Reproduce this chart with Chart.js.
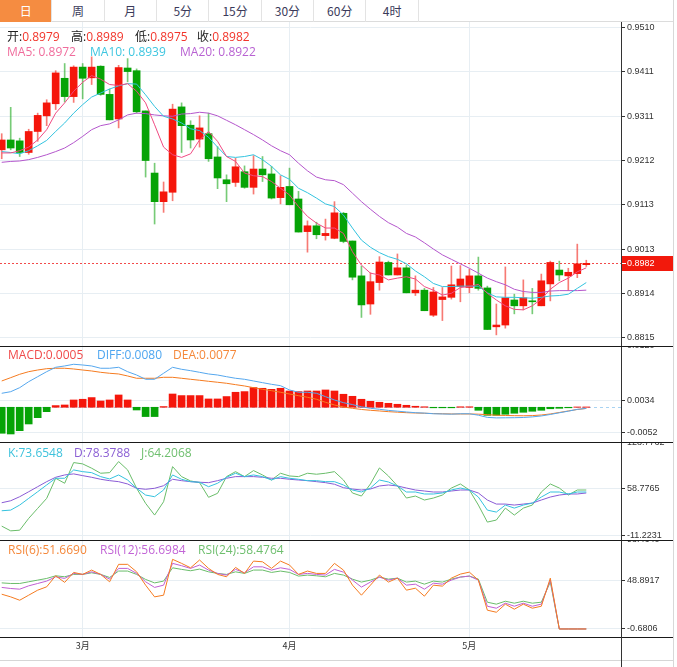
<!DOCTYPE html>
<html><head><meta charset="utf-8">
<script src="https://cdn.jsdelivr.net/npm/chart.js@4.4.1/dist/chart.umd.min.js"></script>
<style>
html,body{margin:0;padding:0;background:#fff;}
body{width:677px;height:667px;overflow:hidden;position:relative;font-family:"Open Sans","Noto Sans CJK SC",sans-serif;}
canvas{position:absolute;left:0;}
.tabs{position:absolute;left:0;top:0;width:673px;height:22px;border-bottom:1px solid #dcdcdc;box-sizing:border-box;}
.tab{position:absolute;top:0;height:22px;line-height:21px;text-align:center;font-size:12px;color:#3a3a5a;border-right:1px solid #e3e3e3;box-sizing:border-box;font-family:"Noto Sans CJK SC","Open Sans",sans-serif;}
.tab.on{background:#f58c41;color:#fff;}
.ln{position:absolute;}
.hdr{position:absolute;font-size:12px;white-space:nowrap;line-height:14px;}
.hdr span{position:absolute;white-space:nowrap;}
</style></head>
<body>
<div class="tabs" id="tabs"></div>
<canvas id="cPrice" width="673" height="324" style="top:22px"></canvas>
<canvas id="cMacd" width="673" height="96" style="top:346px"></canvas>
<canvas id="cKdj" width="673" height="98" style="top:442px"></canvas>
<canvas id="cRsi" width="673" height="120" style="top:540px"></canvas>
<div class="ln" style="left:0;top:346px;width:673px;height:1px;background:#1a1a1a"></div>
<div class="ln" style="left:0;top:442px;width:673px;height:1px;background:#1a1a1a"></div>
<div class="ln" style="left:0;top:540px;width:673px;height:1px;background:#1a1a1a"></div>
<div class="ln" style="left:0;top:637px;width:673px;height:1px;background:#1a1a1a"></div>
<div class="ln" style="left:0;top:660px;width:673px;height:1px;background:#d6d6d6"></div>
<div class="ln" style="left:621px;top:637px;width:1px;height:30px;background:#333"></div>
<div class="ln" style="left:673px;top:0;width:1px;height:667px;background:#d8d8d8"></div>
<div class="hdr" id="h1" style="top:30px;left:0"></div>
<div class="hdr" id="h2" style="top:45px;left:0"></div>
<div class="hdr" id="h3" style="top:348px;left:0"></div>
<div class="hdr" id="h4" style="top:446px;left:0"></div>
<div class="hdr" id="h5" style="top:543px;left:0"></div>
<script>
// ---------- data ----------
const tabLabels = ['日','周','月','5分','15分','30分','60分','4时'];
const monthLabels = ['3月','4月','5月'];
const monthIdx = [9, 32, 52];

const opens = [0.9236,0.9258,0.9256,0.9230,0.9277,0.9312,0.9339,0.9396,0.9355,0.9421,
 0.9397,0.9423,0.9360,0.9305,0.9419,0.9413,0.9323,0.9184,0.9120,0.9141,
 0.9332,0.9291,0.9260,0.9272,0.9220,0.9169,0.9163,0.9187,0.9152,0.9193,
 0.9182,0.9129,0.9154,0.9126,0.9053,0.9066,0.9044,0.9038,0.9094,0.9032,
 0.8954,0.8891,0.8939,0.8984,0.8956,0.8972,0.8916,0.8922,0.8866,0.8901,
 0.8906,0.8930,0.8928,0.8954,0.8927,0.8840,0.8844,0.8900,0.8887,0.8898,
 0.8887,0.8936,0.8967,0.8954,0.8959,0.8979];
const highs = [0.9272,0.9331,0.9262,0.9282,0.9318,0.9348,0.9413,0.9429,0.9424,0.9429,
 0.9444,0.9424,0.9372,0.9425,0.9440,0.9417,0.9323,0.9206,0.9164,0.9338,
 0.9341,0.9301,0.9312,0.9318,0.9243,0.9180,0.9217,0.9200,0.9223,0.9221,
 0.9199,0.9178,0.9195,0.9143,0.9077,0.9074,0.9081,0.9120,0.9096,0.9032,
 0.8976,0.8961,0.8997,0.8987,0.9003,0.8978,0.8954,0.8926,0.8928,0.8928,
 0.8976,0.8977,0.8969,0.8996,0.8931,0.8891,0.8974,0.8913,0.8945,0.8926,
 0.8958,0.8987,0.8987,0.8971,0.9025,0.8989];
const lows = [0.9216,0.9236,0.9221,0.9226,0.9255,0.9290,0.9326,0.9343,0.9342,0.9350,
 0.9382,0.9358,0.9303,0.9285,0.9388,0.9318,0.9175,0.9070,0.9096,0.9122,
 0.9230,0.9240,0.9242,0.9210,0.9149,0.9120,0.9154,0.9150,0.9137,0.9165,
 0.9126,0.9115,0.9113,0.9052,0.9007,0.9037,0.9034,0.9037,0.9028,0.8945,
 0.8861,0.8868,0.8922,0.8956,0.8956,0.8916,0.8910,0.8876,0.8863,0.8854,
 0.8902,0.8896,0.8916,0.8922,0.8834,0.8822,0.8837,0.8869,0.8878,0.8869,
 0.8887,0.8898,0.8943,0.8921,0.8950,0.8975];
const closes = [0.9258,0.9240,0.9230,0.9277,0.9313,0.9341,0.9408,0.9355,0.9421,0.9396,
 0.9421,0.9360,0.9303,0.9420,0.9411,0.9321,0.9212,0.9120,0.9142,0.9327,
 0.9290,0.9258,0.9285,0.9216,0.9173,0.9160,0.9198,0.9152,0.9193,0.9180,
 0.9128,0.9152,0.9113,0.9052,0.9066,0.9046,0.9049,0.9095,0.9031,0.8951,
 0.8889,0.8941,0.8985,0.8956,0.8972,0.8916,0.8922,0.8876,0.8918,0.8907,
 0.8934,0.8947,0.8954,0.8926,0.8834,0.8844,0.8905,0.8887,0.8905,0.8896,
 0.8943,0.8984,0.8956,0.8962,0.8981,0.8982];

const ma5 = [0.9229,0.9229,0.9234,0.9242,0.9258,0.9281,0.9318,0.9341,0.9367,0.9387,
 0.9402,0.9394,0.9382,0.9380,0.9384,0.9367,0.9341,0.9292,0.9242,0.9225,
 0.9219,0.9227,0.9258,0.9277,0.9255,0.9221,0.9210,0.9184,0.9178,0.9176,
 0.9165,0.9150,0.9135,0.9109,0.9087,0.9072,0.9061,0.9061,0.9049,0.9008,
 0.8978,0.8960,0.8956,0.8945,0.8949,0.8952,0.8947,0.8930,0.8922,0.8911,
 0.8915,0.8928,0.8930,0.8935,0.8915,0.8900,0.8887,0.8879,0.8878,0.8887,
 0.8902,0.8924,0.8939,0.8949,0.8963,0.8972];
const ma10 = [0.9232,0.9230,0.9227,0.9234,0.9245,0.9257,0.9277,0.9296,0.9318,0.9337,
 0.9354,0.9363,0.9372,0.9379,0.9384,0.9383,0.9359,0.9333,0.9311,0.9305,
 0.9296,0.9283,0.9279,0.9264,0.9242,0.9221,0.9219,0.9221,0.9225,0.9214,
 0.9199,0.9180,0.9170,0.9150,0.9140,0.9128,0.9115,0.9109,0.9090,0.9061,
 0.9034,0.9018,0.9006,0.8997,0.8991,0.8981,0.8965,0.8952,0.8937,0.8930,
 0.8930,0.8931,0.8931,0.8931,0.8916,0.8907,0.8906,0.8906,0.8905,0.8904,
 0.8906,0.8909,0.8910,0.8913,0.8926,0.8939];
const ma20 = [0.9208,0.9210,0.9211,0.9214,0.9219,0.9225,0.9232,0.9240,0.9252,0.9266,
 0.9281,0.9290,0.9294,0.9303,0.9314,0.9318,0.9317,0.9314,0.9312,0.9311,
 0.9316,0.9317,0.9320,0.9318,0.9312,0.9302,0.9292,0.9281,0.9270,0.9258,
 0.9245,0.9234,0.9225,0.9206,0.9189,0.9175,0.9169,0.9167,0.9158,0.9139,
 0.9120,0.9103,0.9087,0.9073,0.9063,0.9049,0.9041,0.9028,0.9014,0.9001,
 0.8991,0.8981,0.8971,0.8960,0.8949,0.8941,0.8934,0.8924,0.8919,0.8917,
 0.8917,0.8920,0.8921,0.8921,0.8921,0.8922];

const macdHist = [-0.00509,-0.00523,-0.00458,-0.00327,-0.00204,-0.00086,0.00033,0.00045,0.00143,0.00157,
 0.00190,0.00123,0.00143,0.00241,0.00143,-0.00053,-0.00182,-0.00182,0.00014,0.00260,
 0.00229,0.00229,0.00229,0.00163,0.00163,0.00210,0.00294,0.00307,0.00386,0.00372,
 0.00352,0.00372,0.00319,0.00307,0.00319,0.00319,0.00339,0.00319,0.00255,0.00215,
 0.00157,0.00117,0.00098,0.00078,0.00059,0.00039,0.00020,0.00010,-0.00010,-0.00010,
 -0.00010,0.00010,0.00010,-0.00059,-0.00157,-0.00157,-0.00137,-0.00117,-0.00098,-0.00078,
 -0.00059,-0.00029,-0.00020,-0.00010,0.00006,0.00006];
const diff = [0.00274,0.00305,0.00384,0.00501,0.00599,0.00697,0.00783,0.00809,0.00842,0.00828,
 0.00809,0.00764,0.00764,0.00783,0.00697,0.00632,0.00548,0.00548,0.00666,0.00783,
 0.00744,0.00717,0.00685,0.00652,0.00632,0.00599,0.00568,0.00548,0.00515,0.00482,
 0.00450,0.00423,0.00339,0.00294,0.00294,0.00274,0.00208,0.00143,0.00090,0.00053,
 0.00010,-0.00020,-0.00039,-0.00061,-0.00076,-0.00092,-0.00106,-0.00114,-0.00127,-0.00131,
 -0.00135,-0.00127,-0.00127,-0.00155,-0.00198,-0.00208,-0.00206,-0.00204,-0.00200,-0.00188,
 -0.00170,-0.00141,-0.00108,-0.00076,-0.00041,-0.00022];
const dea = [0.00515,0.00580,0.00646,0.00697,0.00730,0.00756,0.00764,0.00764,0.00750,0.00730,
 0.00711,0.00685,0.00666,0.00652,0.00613,0.00568,0.00568,0.00568,0.00587,0.00587,
 0.00568,0.00548,0.00529,0.00509,0.00490,0.00470,0.00443,0.00417,0.00384,0.00352,
 0.00325,0.00294,0.00260,0.00227,0.00196,0.00157,0.00098,0.00045,0.00006,-0.00020,
 -0.00043,-0.00059,-0.00072,-0.00086,-0.00096,-0.00106,-0.00112,-0.00117,-0.00123,-0.00127,
 -0.00131,-0.00131,-0.00131,-0.00135,-0.00145,-0.00155,-0.00161,-0.00164,-0.00166,-0.00163,
 -0.00151,-0.00131,-0.00102,-0.00072,-0.00043,-0.00023];

const kdjK = [25.5,26.5,34.1,44.2,54.2,64.4,74.5,74.5,87.1,84.5,
 83.0,77.0,73.5,79.5,71.9,59.4,49.2,46.7,56.8,79.5,
 73.0,69.4,68.5,61.8,67.0,76.0,82.1,77.0,79.5,77.0,
 71.9,77.0,74.5,73.0,70.9,70.9,69.4,69.4,64.4,56.8,
 53.8,59.8,71.9,68.9,62.9,53.8,53.8,50.8,50.8,52.3,
 56.8,59.8,56.8,46.2,26.5,23.5,34.1,29.5,34.1,37.1,
 46.2,53.8,53.8,50.8,53.8,53.8];
const kdjD = [37.6,40.6,46.7,54.2,61.8,69.4,76.0,79.5,81.1,78.5,
 76.0,73.0,70.9,69.4,65.9,59.4,57.9,59.4,63.3,73.0,
 70.9,69.4,68.5,67.9,70.9,74.5,77.0,77.0,77.0,76.0,
 74.5,74.5,73.0,71.9,70.9,69.4,67.9,65.5,60.3,58.3,
 56.8,58.3,62.9,64.4,62.9,59.8,56.8,55.3,53.8,53.8,
 55.3,56.8,56.8,52.3,41.7,35.6,35.6,34.1,35.6,37.1,
 41.7,46.2,49.2,50.8,50.8,52.3];
const kdjJ = [2.3,-4.8,-3.8,14.0,29.1,44.2,74.5,67.0,98.2,96.2,
 89.7,82.1,83.0,99.7,87.1,59.4,36.7,19.0,39.1,92.1,
 77.0,70.5,67.9,45.8,51.8,77.0,84.5,77.0,86.1,79.5,
 71.9,82.1,78.0,77.0,82.1,80.6,82.1,84.5,71.9,52.3,
 47.7,65.9,90.1,78.0,62.9,44.7,47.7,41.7,44.7,49.2,
 59.8,65.9,56.8,34.1,8.4,11.5,29.5,19.0,29.5,34.1,
 53.8,65.9,59.8,49.2,56.8,56.8];

const rsi6 = [34.6,31.9,28.5,33.6,38.7,42.1,53.3,46.6,56.7,54.7,
 59.1,54.7,47.2,64.9,64.9,57.3,43.8,31.9,33.6,70.0,
 65.9,61.4,69.3,60.8,54.7,52.3,61.8,55.7,68.2,67.5,
 60.8,68.2,64.2,54.7,58.1,55.7,55.7,65.9,59.1,43.8,
 33.6,43.8,54.0,46.9,50.9,38.7,40.7,32.6,43.8,42.8,
 50.9,55.0,57.0,48.9,18.4,16.3,24.5,19.4,24.5,20.4,
 22.4,50.9,-0.68,-0.68,-0.68,-0.68];
const rsi12 = [41.5,40.4,39.7,43.1,45.5,47.9,52.3,50.6,55.7,54.7,
 57.3,54.7,49.9,60.8,60.8,55.7,47.2,41.5,43.8,65.9,
 63.5,60.8,64.2,59.1,55.7,54.0,59.8,56.3,62.4,62.4,
 59.1,61.4,59.8,54.7,55.7,54.7,54.0,59.8,57.0,48.9,
 41.8,46.9,52.0,48.9,50.9,43.8,44.8,39.7,45.8,44.8,
 48.9,52.0,53.0,48.9,22.4,20.4,25.5,22.4,25.5,22.4,
 24.5,48.9,-0.68,-0.68,-0.68,-0.68];
const rsi24 = [46.1,45.5,45.5,47.2,48.9,50.6,53.3,52.3,54.7,54.7,
 56.3,54.7,51.6,58.1,58.1,54.7,49.6,46.1,47.9,61.4,
 59.8,58.4,60.1,57.3,55.7,54.7,57.3,55.7,59.1,59.1,
 56.7,58.1,56.7,53.0,54.0,53.3,52.3,55.7,54.0,49.9,
 46.9,48.9,52.0,49.9,50.9,46.9,47.9,44.8,47.9,46.9,
 49.9,52.0,53.0,49.9,26.5,24.5,27.5,25.5,27.5,25.5,
 26.5,46.9,-0.68,-0.68,-0.68,-0.68];

// header readouts
const macdHeader = ['0.0005','0.0080','0.0077'];
const kdjHeader = ['73.6548','78.3788','64.2068'];
const rsiHeader = ['51.6690','56.6984','58.4764'];

// axis tick labels
const priceTicks = [0.9510,0.9411,0.9311,0.9212,0.9113,0.9013,0.8914,0.8815];
const macdTickLabels = ['0.0120','0.0034','-0.0052'];
const kdjTicks = [128.7762,58.7765,-11.2231];
const rsiTickLabels = ['98.4640','48.8917','-0.6806'];

// ---------- styling / scale setup ----------
const RED='#f5160b', GREEN='#06a306';
const RED_W='rgba(242,40,30,0.62)', GREEN_W='rgba(20,165,20,0.58)';
const GRID='#e7eef3';
const X_MIN=-0.19, X_MAX=68.86;
const PRICE_MIN=0.87971, PRICE_MAX=0.95219;
const MACD_MIN=-0.00680, MACD_MAX=0.0120, MACD_TICK_AT=[0.0120,0.00123,-0.00503];
const KDJ_MIN=-18.61, KDJ_MAX=129.23;
const RSI_MIN=-8.82, RSI_MAX=89.61, RSI_TICK_AT=[89.61,48.8917,-0.6806];
const AXFONT={family:'Liberation Sans',size:9};

const pts = a => a.map((v,i)=>({x:i,y:v}));
const isUp = i => closes[i] >= opens[i];
const noPad = s => {s.paddingTop=0;s.paddingBottom=0;s.paddingLeft=0;s.paddingRight=0;};

function xScale(show){
  return {type:'linear',min:X_MIN,max:X_MAX,offset:false,
    grid:{offset:false,color:GRID,drawTicks:false},
    border:{display:false},
    ticks:{display:show,color:'#333',font:{family:'Noto Sans CJK SC',size:9},padding:3,maxRotation:0,autoSkip:false,
      callback:(v,i)=>monthLabels[i]},
    afterBuildTicks:s=>{s.ticks=monthIdx.map(v=>({value:v}));},
    afterFit:s=>{s.height=show?23:0;noPad(s);}
  };
}
function yScale(min,max,tickAt,labels){
  return {type:'linear',position:'right',min:min,max:max,beginAtZero:false,
    grid:{color:GRID,tickColor:'#333',tickLength:4,drawTicks:true},
    border:{display:true,color:'#333'},
    ticks:{color:'#333',font:AXFONT,padding:2,autoSkip:false,callback:(v,i)=>labels[i]},
    afterBuildTicks:s=>{s.ticks=tickAt.map(v=>({value:v}));},
    afterFit:s=>{s.width=52;noPad(s);}
  };
}
function opts(y,x){
  return {responsive:false,animation:false,events:[],
    layout:{padding:0,autoPadding:false},
    plugins:{legend:{display:false},tooltip:{enabled:false}},
    scales:{x:x,y:y}};
}
function line(data,color,order){
  return {type:'line',data:pts(data),borderColor:color,borderWidth:1,pointRadius:0,tension:0,order:order,fill:false};
}

const lastPrice = {
  id:'lastPrice',
  beforeDatasetsDraw(c){
    const ctx=c.ctx, a=c.chartArea, y=Math.round(c.scales.y.getPixelForValue(closes[closes.length-1]))+0.5;
    ctx.save();ctx.strokeStyle='#f24a4a';ctx.lineWidth=1;ctx.setLineDash([2,2]);
    ctx.beginPath();ctx.moveTo(a.left,y);ctx.lineTo(a.right,y);ctx.stroke();ctx.restore();
  },
  afterDraw(c){
    const ctx=c.ctx, a=c.chartArea, v=closes[closes.length-1], y=Math.round(c.scales.y.getPixelForValue(v));
    ctx.save();ctx.fillStyle='#f2190c';ctx.fillRect(a.right+1,y-7,52,15);
    ctx.strokeStyle='#fff';ctx.lineWidth=1;ctx.beginPath();ctx.moveTo(a.right+1,y+0.5);ctx.lineTo(a.right+5,y+0.5);ctx.stroke();
    ctx.fillStyle='#fff';ctx.font='9px "Liberation Sans"';ctx.textBaseline='middle';ctx.textAlign='left';
    ctx.fillText(v.toFixed(4),a.right+6,y+1);ctx.restore();
  }
};
const zeroLine = {
  id:'zeroLine',
  beforeDatasetsDraw(c){
    const ctx=c.ctx,a=c.chartArea,y=Math.round(c.scales.y.getPixelForValue(0))+0.5;
    ctx.save();ctx.strokeStyle='#a8d3f2';ctx.lineWidth=1;ctx.setLineDash([3,3]);
    ctx.beginPath();ctx.moveTo(a.left,y);ctx.lineTo(a.right,y);ctx.stroke();ctx.restore();
  }
};

// ---------- price ----------
new Chart(document.getElementById('cPrice'),{
  type:'bar',
  data:{datasets:[
    line(ma5,'#f04a82',0), line(ma10,'#33c3df',0), line(ma20,'#b456cc',0),
    {type:'bar',data:opens.map((o,i)=>({x:i,y:[o,closes[i]]})),backgroundColor:opens.map((o,i)=>isUp(i)?RED:GREEN),
      barThickness:7,grouped:false,minBarLength:1,order:1},
    {type:'bar',data:lows.map((l,i)=>({x:i,y:[l,highs[i]]})),backgroundColor:lows.map((l,i)=>isUp(i)?RED_W:GREEN_W),
      barThickness:1,grouped:false,order:2}
  ]},
  options:opts(yScale(PRICE_MIN,PRICE_MAX,priceTicks,priceTicks.map(v=>v.toFixed(4))),xScale(false)),
  plugins:[lastPrice]
});

// ---------- MACD ----------
new Chart(document.getElementById('cMacd'),{
  type:'bar',
  data:{datasets:[
    line(diff,'#55a7ee',0), line(dea,'#f57b20',0),
    {type:'bar',data:pts(macdHist),backgroundColor:macdHist.map(v=>v>=0?RED:GREEN),barThickness:7,grouped:false,order:1}
  ]},
  options:opts(yScale(MACD_MIN,MACD_MAX,MACD_TICK_AT,macdTickLabels),xScale(false)),
  plugins:[zeroLine]
});

// ---------- KDJ ----------
new Chart(document.getElementById('cKdj'),{
  type:'line',
  data:{datasets:[ line(kdjK,'#34c2de',0), line(kdjD,'#8a5bd5',1), line(kdjJ,'#6abd6a',2) ]},
  options:opts(yScale(KDJ_MIN,KDJ_MAX,kdjTicks,kdjTicks.map(v=>v.toFixed(4))),xScale(false))
});

// ---------- RSI ----------
new Chart(document.getElementById('cRsi'),{
  type:'line',
  data:{datasets:[ line(rsi6,'#f57b20',0), line(rsi12,'#c05fd3',1), line(rsi24,'#6abd6a',2) ]},
  options:opts(yScale(RSI_MIN,RSI_MAX,RSI_TICK_AT,rsiTickLabels),xScale(true))
});

// ---------- tabs & headers ----------
const tabs=document.getElementById('tabs');
tabLabels.forEach((t,i)=>{const d=document.createElement('div');d.className='tab'+(i===0?' on':'');
  d.style.left=(i*52.35)+'px';d.style.width='52.35px';d.textContent=t;tabs.appendChild(d);});
function hdr(id,items){const el=document.getElementById(id);
  items.forEach(([x,html])=>{const s=document.createElement('span');s.style.left=x+'px';s.innerHTML=html;el.appendChild(s);});}
const L=closes.length-1, f4=v=>v.toFixed(4);
const RV='#f2352b';
hdr('h1',[[7,'<span style="position:static;color:#222">开:</span><span style="position:static;color:'+RV+'">'+f4(opens[L])+'</span>'],
  [71,'<span style="position:static;color:#222">高:</span><span style="position:static;color:'+RV+'">'+f4(highs[L])+'</span>'],
  [135,'<span style="position:static;color:#222">低:</span><span style="position:static;color:'+RV+'">'+f4(lows[L])+'</span>'],
  [197,'<span style="position:static;color:#222">收:</span><span style="position:static;color:'+RV+'">'+f4(closes[L])+'</span>']]);
hdr('h2',[[7,'<span style="position:static;color:#f06c9c">MA5: '+f4(ma5[L])+'</span>'],
  [90,'<span style="position:static;color:#3ec6e0">MA10: '+f4(ma10[L])+'</span>'],
  [180,'<span style="position:static;color:#b862d2">MA20: '+f4(ma20[L])+'</span>']]);
hdr('h3',[[8,'<span style="position:static;color:#f04a4a">MACD:'+macdHeader[0]+'</span>'],
  [97,'<span style="position:static;color:#4ea6f0">DIFF:'+macdHeader[1]+'</span>'],
  [173,'<span style="position:static;color:#f5883a">DEA:'+macdHeader[2]+'</span>']]);
hdr('h4',[[8,'<span style="position:static;color:#3ec2dc">K:'+kdjHeader[0]+'</span>'],
  [74,'<span style="position:static;color:#8b5fd4">D:'+kdjHeader[1]+'</span>'],
  [141,'<span style="position:static;color:#6fbf6f">J:'+kdjHeader[2]+'</span>']]);
hdr('h5',[[8,'<span style="position:static;color:#f5883a">RSI(6):'+rsiHeader[0]+'</span>'],
  [100,'<span style="position:static;color:#c264d6">RSI(12):'+rsiHeader[1]+'</span>'],
  [198,'<span style="position:static;color:#6fbf6f">RSI(24):'+rsiHeader[2]+'</span>']]);
</script>
</body></html>
